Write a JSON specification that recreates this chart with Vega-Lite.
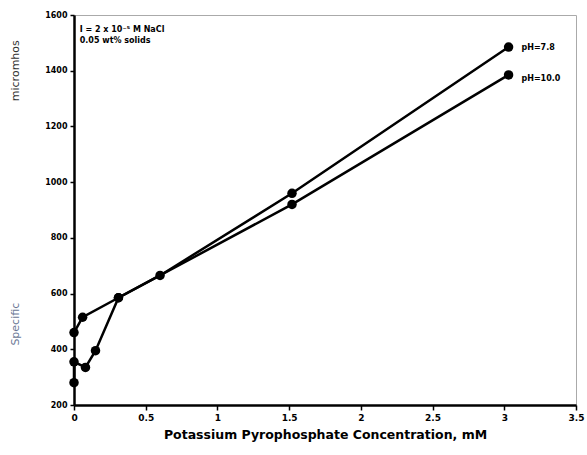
{
  "$schema": "https://vega.github.io/schema/vega-lite/v6.json",
  "width": 502,
  "height": 390,
  "autosize": {"type": "none"},
  "padding": {"left": 74, "top": 15, "right": 11, "bottom": 50},
  "background": "white",
  "config": {
    "view": {"stroke": "#aaaaaa", "strokeWidth": 1},
    "font": "DejaVu Sans"
  },
  "datasets": {
    "pts": [
      {"series": "pH=7.8", "x": 0, "y": 460, "ord": 1},
      {"series": "pH=7.8", "x": 0.06, "y": 515, "ord": 2},
      {"series": "pH=7.8", "x": 0.31, "y": 585, "ord": 3},
      {"series": "pH=7.8", "x": 0.6, "y": 665, "ord": 4},
      {"series": "pH=7.8", "x": 1.52, "y": 960, "ord": 5},
      {"series": "pH=7.8", "x": 3.03, "y": 1485, "ord": 6},
      {"series": "pH=10.0", "x": 0, "y": 280, "ord": 1},
      {"series": "pH=10.0", "x": 0, "y": 355, "ord": 2},
      {"series": "pH=10.0", "x": 0.08, "y": 335, "ord": 3},
      {"series": "pH=10.0", "x": 0.15, "y": 395, "ord": 4},
      {"series": "pH=10.0", "x": 0.31, "y": 585, "ord": 5},
      {"series": "pH=10.0", "x": 1.52, "y": 920, "ord": 6},
      {"series": "pH=10.0", "x": 3.03, "y": 1385, "ord": 7}
    ],
    "labels": [
      {"label": "pH=7.8", "x": 3.12, "y": 1480},
      {"label": "pH=10.0", "x": 3.12, "y": 1370}
    ],
    "notes": [
      {"label": "I = 2 x 10⁻⁵ M NaCl", "x": 0.04, "y": 1545},
      {"label": "0.05 wt% solids", "x": 0.04, "y": 1505}
    ]
  },
  "layer": [
    {
      "data": {"name": "pts"},
      "mark": {"type": "line", "color": "black", "strokeWidth": 2.5},
      "encoding": {
        "x": {
          "field": "x", "type": "quantitative",
          "scale": {"domain": [0, 3.5], "nice": false, "zero": false},
          "axis": {
            "values": [0, 0.5, 1, 1.5, 2, 2.5, 3, 3.5],
            "title": "Potassium Pyrophosphate Concentration, mM",
            "titleFont": "DejaVu Sans", "titleFontWeight": "bold", "titleFontSize": 12.5,
            "titleColor": "black", "titlePadding": 6,
            "labelFont": "DejaVu Sans", "labelFontWeight": "bold", "labelFontSize": 9,
            "labelColor": "black", "labelPadding": 3,
            "domainColor": "black", "domainWidth": 2.5,
            "tickColor": "black", "tickWidth": 1.5, "tickSize": 5,
            "grid": false, "format": "~g", "labelFlush": false
          }
        },
        "y": {
          "field": "y", "type": "quantitative",
          "scale": {"domain": [200, 1600], "nice": false, "zero": false},
          "axis": {
            "values": [200, 400, 600, 800, 1000, 1200, 1400, 1600],
            "title": null, "format": "d",
            "labelFont": "DejaVu Sans", "labelFontWeight": "bold", "labelFontSize": 8,
            "labelColor": "black", "labelPadding": 3,
            "domainColor": "black", "domainWidth": 2.5,
            "tickColor": "black", "tickWidth": 1.5, "tickSize": 4,
            "grid": false, "labelFlush": false
          }
        },
        "detail": {"field": "series"},
        "order": {"field": "ord"}
      }
    },
    {
      "data": {"name": "pts"},
      "mark": {"type": "circle", "color": "black", "opacity": 1, "size": 90},
      "encoding": {
        "x": {"field": "x", "type": "quantitative"},
        "y": {"field": "y", "type": "quantitative"}
      }
    },
    {
      "data": {"name": "labels"},
      "mark": {"type": "text", "align": "left", "baseline": "middle", "font": "DejaVu Sans", "fontWeight": "bold", "fontSize": 8, "color": "black"},
      "encoding": {
        "x": {"field": "x", "type": "quantitative"},
        "y": {"field": "y", "type": "quantitative"},
        "text": {"field": "label"}
      }
    },
    {
      "data": {"name": "notes"},
      "mark": {"type": "text", "align": "left", "baseline": "middle", "font": "DejaVu Sans", "fontWeight": "bold", "fontSize": 8, "color": "black"},
      "encoding": {
        "x": {"field": "x", "type": "quantitative"},
        "y": {"field": "y", "type": "quantitative"},
        "text": {"field": "label"}
      }
    },
    {
      "data": {"values": [{"label": "micromhos", "y": 1400}]},
      "mark": {"type": "text", "angle": 270, "align": "center", "baseline": "middle", "font": "DejaVu Sans", "fontSize": 11, "color": "#333333", "dx": 0, "dy": -58},
      "encoding": {
        "x": {"datum": 0, "type": "quantitative"},
        "y": {"field": "y", "type": "quantitative"},
        "text": {"field": "label"}
      }
    },
    {
      "data": {"values": [{"label": "Specific", "y": 490}]},
      "mark": {"type": "text", "angle": 270, "align": "center", "baseline": "middle", "font": "DejaVu Sans", "fontSize": 11, "color": "#6b7895", "dx": 0, "dy": -58},
      "encoding": {
        "x": {"datum": 0, "type": "quantitative"},
        "y": {"field": "y", "type": "quantitative"},
        "text": {"field": "label"}
      }
    }
  ]
}
